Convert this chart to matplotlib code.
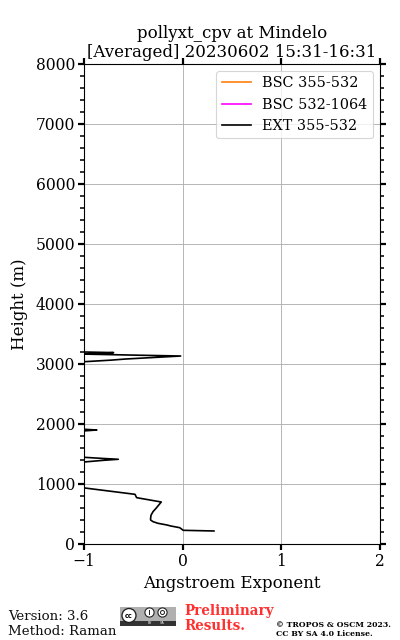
import matplotlib
matplotlib.use("Agg")
import matplotlib.pyplot as plt
from matplotlib.patches import Rectangle, Circle
from matplotlib.ticker import MultipleLocator

plt.rcParams['font.family'] = 'DejaVu Serif'

title_lines = "pollyxt_cpv at Mindelo\n[Averaged] 20230602 15:31-16:31"
x_label = "Angstroem Exponent"
y_label = "Height (m)"
series_names = ["BSC 355-532", "BSC 532-1064", "EXT 355-532"]
series_colors = ["#ff7f0e", "#ff00ff", "black"]

# EXT 355-532 profile (height in m, value)
ext_height = [217, 228, 272, 300, 317, 345, 372, 400, 428, 483, 540, 595, 700, 772,
              800, 828, 933, 1000,
              1340, 1367, 1395, 1412, 1425, 1445, 1470,
              1870, 1885, 1900, 1912, 1925,
              2990, 3038, 3065, 3083, 3133, 3145, 3165, 3175, 3190, 3200, 3240]
ext_value = [0.317, 0.006, -0.03, -0.12, -0.16, -0.25, -0.30, -0.325, -0.325, -0.32, -0.30, -0.27,
             -0.217, -0.466, -0.475, -0.483, -0.99, -1.35,
             -1.5, -1.0, -0.8, -0.652, -0.8, -1.0, -1.5,
             -1.5, -1.0, -0.87, -1.0, -1.5,
             -1.5, -1.0, -0.72, -0.58, -0.02, -0.4, -1.0, -0.9, -0.7, -1.0, -1.5]

fig = plt.figure(figsize=(5, 8), dpi=80)
ax = fig.add_axes([84 / 400, 1 - 544 / 640, 296 / 400, 480 / 640])

ax.plot([], [], color=series_colors[0], lw=1.5, label=series_names[0])
ax.plot([], [], color=series_colors[1], lw=1.5, label=series_names[1])
ax.plot(ext_value, ext_height, color=series_colors[2], lw=1.5, label=series_names[2])

ax.set_xlim(-1, 2)
ax.set_ylim(0, 8000)
ax.xaxis.set_major_locator(MultipleLocator(1))
ax.yaxis.set_major_locator(MultipleLocator(1000))
ax.yaxis.set_minor_locator(MultipleLocator(200))
ax.grid(True, which='major', color='#b0b0b0', lw=0.8)
ax.tick_params(axis='both', which='major', labelsize=14, length=5, width=2,
               top=True, right=True, pad=3)
ax.tick_params(axis='y', which='minor', length=3.5, width=1.4, right=True, left=True)
for s in ax.spines.values():
    s.set_linewidth(1.0)

ax.set_xlabel(x_label, fontsize=15, labelpad=4.5)
ax.set_ylabel(y_label, fontsize=15, labelpad=6.5)
ax.set_title(title_lines, fontsize=15, pad=6.5, linespacing=1.15)
ax.legend(loc='upper right', fontsize=12.9, handlelength=2, framealpha=0.8,
          bbox_to_anchor=(0.992, 0.995), borderaxespad=0.3)

fig.text(8 / 400, 1 - 620 / 640, "Version: 3.6", fontsize=12, va='baseline', color='#111111')
fig.text(8 / 400, 1 - 635 / 640, "Method: Raman", fontsize=12, va='baseline', color='#111111')
fig.text(184 / 400, 1 - 615 / 640, "Preliminary", fontsize=12.2, weight='bold', color='#ff3030')
fig.text(184 / 400, 1 - 630 / 640, "Results.", fontsize=12.2, weight='bold', color='#ff3030')
fig.text(276 / 400, 1 - 627 / 640, "© TROPOS & OSCM 2023.", fontsize=7, weight='bold')
fig.text(276 / 400, 1 - 636 / 640, "CC BY SA 4.0 License.", fontsize=7, weight='bold')

# CC BY SA badge
W, H = 400, 640
logo = fig.add_axes([120 / W, 1 - 626 / H, 56 / W, 19 / H])
logo.set_xlim(0, 56)
logo.set_ylim(19, 0)
logo.axis('off')
logo.add_patch(Rectangle((0, 0), 56, 19, color='#b0b0b0', lw=0))
logo.add_patch(Rectangle((0, 13.5), 56, 5.5, color='#333333', lw=0))
logo.add_patch(Circle((9, 8.5), 7, fc='white', ec='#222222', lw=1.2))
logo.text(9, 8.6, "cc", fontsize=6, weight='bold', ha='center', va='center', family='DejaVu Sans')
for cx in (29.5, 42.5):
    logo.add_patch(Circle((cx, 5.5), 4.6, fc='white', ec='#222222', lw=1))
logo.add_patch(Rectangle((28.8, 3.2), 1.5, 4.6, color='#222222', lw=0))
logo.add_patch(Circle((42.5, 5.5), 2, fc='white', ec='#222222', lw=0.9))
logo.text(29.5, 16.4, "BY", fontsize=3, color='white', ha='center', va='center', family='DejaVu Sans')
logo.text(42.5, 16.4, "SA", fontsize=3, color='white', ha='center', va='center', family='DejaVu Sans')

fig.savefig("out.png", dpi=80)
